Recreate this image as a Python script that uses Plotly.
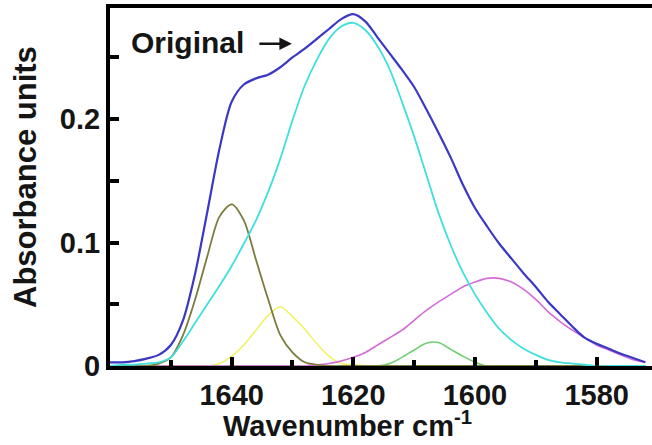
import plotly.graph_objects as go

# Wavenumber grid (cm-1)
wavenumber = [1660, 1658, 1656, 1654, 1652, 1650, 1648, 1646, 1644, 1642,
              1640, 1638, 1636, 1634, 1632, 1630, 1628, 1626, 1624, 1622,
              1620, 1618, 1616, 1614, 1612, 1610, 1608, 1606, 1604, 1602,
              1600, 1598, 1596, 1594, 1592, 1590, 1588, 1586, 1584, 1582,
              1580, 1578, 1576, 1574, 1572]

original = [0.003, 0.003, 0.004, 0.006, 0.009, 0.017, 0.037, 0.075, 0.125, 0.176,
            0.214, 0.228, 0.233, 0.236, 0.242, 0.250, 0.257, 0.265, 0.273, 0.281,
            0.285, 0.279, 0.266, 0.253, 0.240, 0.226, 0.208, 0.189, 0.169, 0.147,
            0.128, 0.113, 0.099, 0.087, 0.075, 0.064, 0.052, 0.042, 0.032, 0.023,
            0.018, 0.014, 0.010, 0.0065, 0.003]

band_1620 = [0.000, 0.001, 0.001, 0.002, 0.003, 0.007, 0.020, 0.035, 0.050, 0.065,
             0.081, 0.099, 0.118, 0.141, 0.168, 0.199, 0.227, 0.248, 0.265, 0.275,
             0.278, 0.272, 0.259, 0.240, 0.214, 0.186, 0.155, 0.124, 0.098, 0.076,
             0.058, 0.043, 0.030, 0.021, 0.014, 0.009, 0.005, 0.003, 0.002, 0.001,
             0.000, 0.000, 0.000, 0.000, 0.000]

band_1640 = [0.000, 0.000, 0.000, 0.000, 0.002, 0.007, 0.025, 0.054, 0.089, 0.121,
             0.131, 0.118, 0.086, 0.054, 0.025, 0.011, 0.003, 0.001, 0.000, 0.000,
             0.000, 0.000, 0.000, 0.000, 0.000, 0.000, 0.000, 0.000, 0.000, 0.000,
             0.000, 0.000, 0.000, 0.000, 0.000, 0.000, 0.000, 0.000, 0.000, 0.000,
             0.000, 0.000, 0.000, 0.000, 0.000]

band_1632 = [0.000, 0.000, 0.000, 0.000, 0.000, 0.000, 0.000, 0.000, 0.000, 0.002,
             0.008, 0.017, 0.029, 0.041, 0.048, 0.040, 0.030, 0.018, 0.008, 0.002,
             0.001, 0.000, 0.000, 0.000, 0.000, 0.000, 0.000, 0.000, 0.000, 0.000,
             0.000, 0.000, 0.000, 0.000, 0.000, 0.000, 0.000, 0.000, 0.000, 0.000,
             0.000, 0.000, 0.000, 0.000, 0.000]

band_1597 = [0.000, 0.000, 0.000, 0.000, 0.000, 0.000, 0.000, 0.000, 0.000, 0.000,
             0.000, 0.000, 0.000, 0.000, 0.000, 0.000, 0.000, 0.001, 0.002, 0.004,
             0.007, 0.011, 0.017, 0.023, 0.029, 0.037, 0.045, 0.052, 0.058, 0.064,
             0.068, 0.071, 0.071, 0.068, 0.062, 0.054, 0.044, 0.036, 0.029, 0.023,
             0.017, 0.013, 0.009, 0.005, 0.003]

band_1607 = [0.000, 0.000, 0.000, 0.000, 0.000, 0.000, 0.000, 0.000, 0.000, 0.000,
             0.000, 0.000, 0.000, 0.000, 0.000, 0.000, 0.000, 0.000, 0.000, 0.000,
             0.000, 0.000, 0.000, 0.002, 0.007, 0.013, 0.0185, 0.019, 0.0135, 0.008,
             0.003, 0.000, 0.000, 0.000, 0.000, 0.000, 0.000, 0.000, 0.000, 0.000,
             0.000, 0.000, 0.000, 0.000, 0.000]

x_major_ticks = [1640, 1620, 1600, 1580]
x_minor_ticks = [1650, 1630, 1610, 1590]
y_major_ticks = [0, 0.1, 0.2]
y_tick_labels = ["0", "0.1", "0.2"]
y_minor_ticks = [0.05, 0.15, 0.25]

series = [
    (band_1632, "#f2f266", 1.6),
    (band_1607, "#6fcf6f", 1.6),
    (band_1597, "#d46ad8", 1.6),
    (band_1640, "#7b7b3c", 1.8),
    (band_1620, "#3fe0dc", 1.8),
    (original, "#3b38c4", 2.2),
]

fig = go.Figure()
for ys, color, w in series:
    fig.add_trace(go.Scatter(x=wavenumber, y=ys, mode="lines",
                             line=dict(color=color, width=w, shape="spline", smoothing=0.8),
                             showlegend=False, hoverinfo="skip"))

font_family = "Liberation Sans, Arial, sans-serif"
txt = "#151515"

fig.update_layout(
    width=652, height=445,
    margin=dict(l=110, r=0, t=8, b=79),
    paper_bgcolor="white", plot_bgcolor="white",
    font=dict(family=font_family, size=30, color=txt, weight="bold"),
    xaxis=dict(
        range=[1660, 1570.9], showgrid=False, zeroline=False,
        showline=True, linecolor="black", linewidth=4, mirror=True,
        tickmode="array", tickvals=x_major_ticks,
        ticks="inside", ticklen=9, tickwidth=4, tickcolor="black",
        minor=dict(tickmode="array", tickvals=x_minor_ticks,
                   ticks="inside", ticklen=6, tickwidth=4, tickcolor="black"),
        tickfont=dict(size=29, family=font_family, color=txt, weight="bold"),
    ),
    yaxis=dict(
        range=[0, 0.29], showgrid=False, zeroline=False,
        showline=True, linecolor="black", linewidth=4, mirror=False,
        tickmode="array", tickvals=y_major_ticks, ticktext=y_tick_labels,
        ticks="inside", ticklen=9, tickwidth=4, tickcolor="black",
        minor=dict(tickmode="array", tickvals=y_minor_ticks,
                   ticks="inside", ticklen=9, tickwidth=4, tickcolor="black"),
        tickfont=dict(size=29, family=font_family, color=txt, weight="bold"),
    ),
    annotations=[
        dict(xref="paper", yref="paper", x=0.439, y=-0.217, xanchor="center", yanchor="bottom",
             text="Wavenumber cm<sup>-1</sup>", showarrow=False,
             font=dict(size=29, family=font_family, color=txt, weight="bold")),
        dict(xref="paper", yref="paper", x=-0.155, y=0.528, xanchor="center", yanchor="middle",
             text="Absorbance units", showarrow=False, textangle=-90,
             font=dict(size=31, family=font_family, color=txt, weight="bold")),
        dict(xref="paper", yref="paper", x=0.035, y=0.905, xanchor="left", yanchor="middle",
             text="Original", showarrow=False,
             font=dict(size=30, family=font_family, color=txt, weight="bold")),
        dict(xref="x", yref="y", x=1630.1, y=0.261, ax=-34, ay=0,
             showarrow=True, arrowhead=2, arrowsize=1.0, arrowwidth=2.5, arrowcolor=txt,
             text=""),
    ],
)

fig.write_html("out.html")
